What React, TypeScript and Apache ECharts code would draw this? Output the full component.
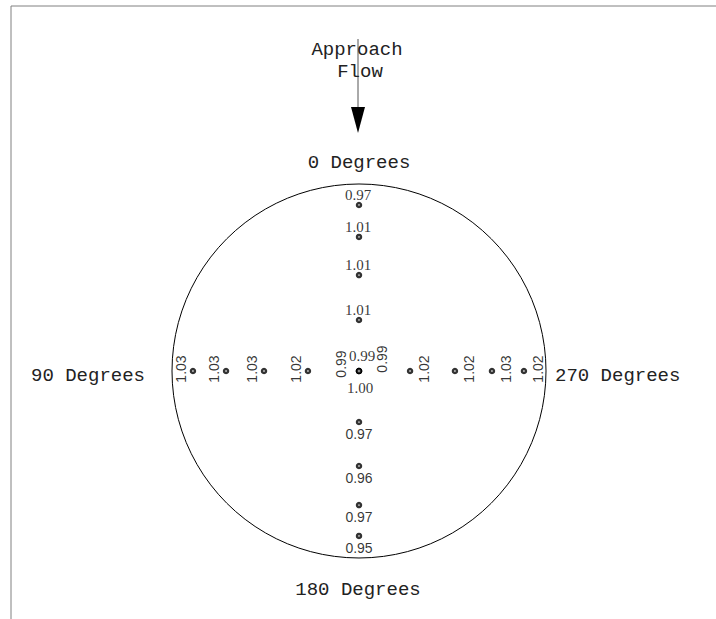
import React, { useEffect, useRef } from "react";
import * as echarts from "echarts";

// Radial positions (fraction of circle radius) and measured values per traverse
const topRadii = [0.888, 0.717, 0.513, 0.273];
const topValues = [0.97, 1.01, 1.01, 1.01];
const bottomRadii = [0.273, 0.508, 0.717, 0.882];
const bottomValues = [0.97, 0.96, 0.97, 0.95];
const leftRadii = [0.888, 0.711, 0.508, 0.273];
const leftValues = [1.03, 1.03, 1.03, 1.02];
const rightRadii = [0.273, 0.513, 0.711, 0.882];
const rightValues = [1.02, 1.02, 1.03, 1.02];
// center point readings: toward 0°, 180°, 90°, 270°
const centerValues = [0.99, 1.0, 0.99, 0.99];

const directionLabels = ["0 Degrees", "90 Degrees", "180 Degrees", "270 Degrees"];
const flowLabels = ["Approach", "Flow"];

const mk = (radii: number[], vals: number[], angle: number) =>
  radii.map((r, i) => [r, angle, vals[i]]);

export default function App() {
  const ref = useRef<HTMLDivElement>(null);
  useEffect(() => {
    if (!ref.current) return;
    const chart = echarts.init(ref.current, null, { renderer: "svg" });
    const sym = {
      symbol: "circle",
      symbolSize: 4,
      itemStyle: { color: "#ffffff", borderColor: "#000000", borderWidth: 2.5 },
    };
    const fmt = (p: any) => Number(p.value[2]).toFixed(2);
    const serifLbl = { fontFamily: "Liberation Serif", fontSize: 15, color: "#000" };
    const sansLbl = { fontFamily: "Liberation Sans", fontSize: 14, color: "#000" };
    const bigText = { fontFamily: "Liberation Mono", fontSize: 19, fill: "#222" };
    const mkSeries = (data: any[], label: any) => ({
      type: "scatter",
      coordinateSystem: "polar",
      ...sym,
      data,
      label: { show: true, formatter: fmt, ...label },
      emphasis: { disabled: true },
      silent: true,
    });
    chart.setOption({
      animation: false,
      polar: { center: [359, 371], radius: 187 },
      angleAxis: {
        type: "value",
        min: 0,
        max: 360,
        startAngle: 90,
        clockwise: false,
        axisLine: { show: true, lineStyle: { color: "#000", width: 1 } },
        axisTick: { show: false },
        axisLabel: { show: false },
        splitLine: { show: false },
      },
      radiusAxis: {
        type: "value",
        min: 0,
        max: 1,
        axisLine: { show: false },
        axisTick: { show: false },
        axisLabel: { show: false },
        splitLine: { show: false },
      },
      series: [
        mkSeries(mk(topRadii, topValues, 0), { position: "top", distance: 0, offset: [-1, 1], ...serifLbl }),
        mkSeries(mk(bottomRadii, bottomValues, 180), { position: "bottom", distance: 2, ...sansLbl }),
        mkSeries(mk(leftRadii, leftValues, 90), {
          position: "inside", rotate: 90, offset: [2, -12], ...sansLbl,
        }),
        mkSeries(mk(rightRadii, rightValues, 270), {
          position: "inside", rotate: 90, offset: [2, 14], ...sansLbl,
        }),
        mkSeries([[0, 0, centerValues[0]]], { position: "inside", offset: [3, -15], ...serifLbl }),
        mkSeries([[0, 0, centerValues[1]]], { position: "inside", offset: [1, 17], ...serifLbl }),
        mkSeries([[0, 0, centerValues[2]]], {
          position: "inside", rotate: 90, offset: [7, -18], ...sansLbl,
        }),
        mkSeries([[0, 0, centerValues[3]]], {
          position: "inside", rotate: 90, offset: [12, 23], ...sansLbl,
        }),
      ],
      graphic: [
        { type: "line", shape: { x1: 11, y1: 6, x2: 11, y2: 619 }, style: { stroke: "#808080", lineWidth: 1 } },
        { type: "line", shape: { x1: 11, y1: 6, x2: 716, y2: 6 }, style: { stroke: "#808080", lineWidth: 1 } },
        { type: "line", shape: { x1: 358, y1: 39, x2: 358, y2: 110 }, style: { stroke: "#555", lineWidth: 1 } },
        { type: "polygon", shape: { points: [[351, 107], [365, 107], [358, 133]] }, style: { fill: "#000" } },
        { type: "text", x: 357, y: 50, style: { text: flowLabels[0], align: "center", verticalAlign: "middle", ...bigText } },
        { type: "text", x: 360, y: 72, style: { text: flowLabels[1], align: "center", verticalAlign: "middle", ...bigText } },
        { type: "text", x: 359, y: 163, style: { text: directionLabels[0], align: "center", verticalAlign: "middle", ...bigText } },
        { type: "text", x: 31, y: 376, style: { text: directionLabels[1], align: "left", verticalAlign: "middle", ...bigText } },
        { type: "text", x: 358, y: 590, style: { text: directionLabels[2], align: "center", verticalAlign: "middle", ...bigText } },
        { type: "text", x: 555, y: 376, style: { text: directionLabels[3], align: "left", verticalAlign: "middle", ...bigText } },
      ],
    });
    return () => chart.dispose();
  }, []);
  return (
    <div
      ref={ref}
      style={{ position: "fixed", left: 0, top: 0, width: 716, height: 619, background: "#fff" }}
    />
  );
}
